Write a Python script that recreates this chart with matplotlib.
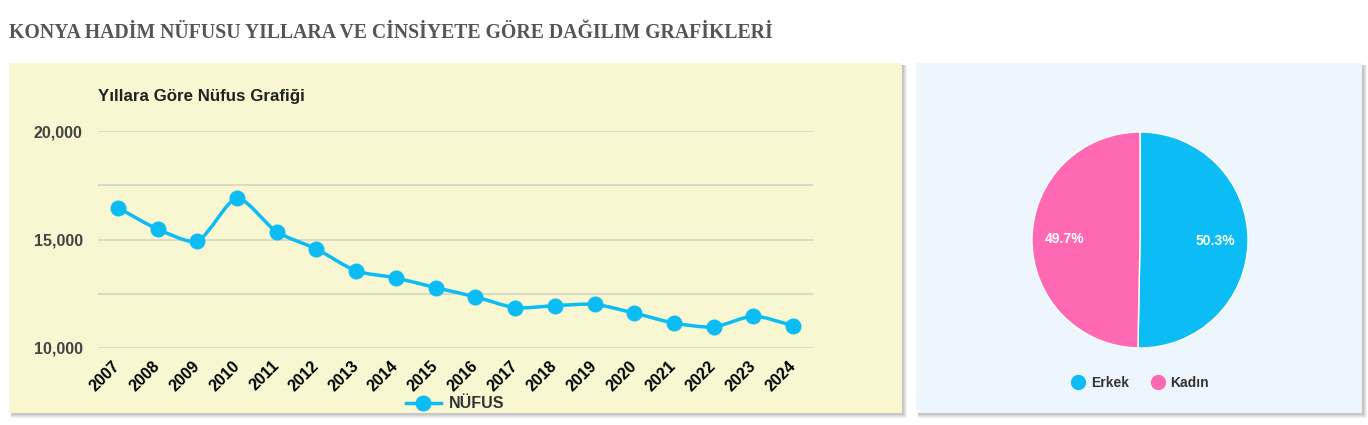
import numpy as np
import matplotlib.pyplot as plt
from matplotlib.patches import Rectangle
from matplotlib.path import Path
from matplotlib.patches import PathPatch
from matplotlib.lines import Line2D

plt.rcParams['font.family'] = ['Liberation Sans', 'DejaVu Sans']

yillar = ['2007', '2008', '2009', '2010', '2011', '2012', '2013', '2014', '2015',
          '2016', '2017', '2018', '2019', '2020', '2021', '2022', '2023', '2024']
nufus = [16465, 15480, 14930, 16900, 15350, 14560, 13550, 13230, 12780,
         12360, 11860, 11950, 12010, 11610, 11150, 10970, 11470, 11030]

cinsiyet = ['Erkek', 'Kadın']
oranlar = [50.3, 49.7]

MAVI = '#0bbdf4'
PEMBE = '#ff69b4'

W, H = 1368, 425
fig = plt.figure(figsize=(W / 100, H / 100), dpi=100)
fig.patch.set_facecolor('white')


def px_rect(x0, y0, x1, y1):
    # piksel koordinatlarini (ustten) figure oranina cevir
    return [x0 / W, 1 - y1 / H, (x1 - x0) / W, (y1 - y0) / H]


def panel(x0, y0, x1, y1, renk):
    for i, a in enumerate([0.05, 0.05, 0.06, 0.07]):
        off = 5 - i
        r = px_rect(x0 + 2, y0 + 2, x1 + off, y1 + off)
        fig.add_artist(Rectangle((r[0], r[1]), r[2], r[3], transform=fig.transFigure,
                                 facecolor='black', alpha=a, edgecolor='none', zorder=-3))
    r = px_rect(x0, y0, x1, y1)
    fig.add_artist(Rectangle((r[0], r[1]), r[2], r[3], transform=fig.transFigure,
                             facecolor=renk, edgecolor='none', zorder=-2))


panel(9, 63, 902, 413, '#f8f7d1')
panel(916, 63, 1362, 413, '#eef6fd')

fig.text(9 / W, 1 - 33 / H, 'KONYA HADİM NÜFUSU YILLARA VE CİNSİYETE GÖRE DAĞILIM GRAFİKLERİ',
         family='Liberation Serif', fontweight='bold', fontsize=14.2, color='#555555',
         ha='left', va='center')

# cizgi grafigi
ax = fig.add_axes(px_rect(98, 131, 813, 348))
ax.set_facecolor('none')
x = np.arange(len(yillar))
ax.set_xlim(-0.5, len(yillar) - 0.5)
ax.set_ylim(10000, 20000)

# chart.js tarzi yumusak egri
sx, sy = 39.7, 21.7 / 1000
pts = np.column_stack([x * sx, np.array(nufus) * sy])
t = 0.25
verts = [tuple(pts[0])]
codes = [Path.MOVETO]
cps = []
for i in range(len(pts)):
    p0 = pts[max(i - 1, 0)]
    p1 = pts[i]
    p2 = pts[min(i + 1, len(pts) - 1)]
    d01 = np.hypot(*(p1 - p0))
    d12 = np.hypot(*(p2 - p1))
    top = d01 + d12 if d01 + d12 > 0 else 1
    fa = t * d01 / top
    fb = t * d12 / top
    cps.append((p1 - fa * (p2 - p0), p1 + fb * (p2 - p0)))
for i in range(1, len(pts)):
    verts += [tuple(cps[i - 1][1]), tuple(cps[i][0]), tuple(pts[i])]
    codes += [Path.CURVE4] * 3
verts = [(vx / sx, vy / sy) for vx, vy in verts]
ax.add_patch(PathPatch(Path(verts, codes), facecolor='none', edgecolor=MAVI, lw=2.5,
                       zorder=3, clip_on=False))
ax.plot(x, nufus, 'o', color=MAVI, ms=10.5, zorder=4, clip_on=False)

ax.set_yticks([10000, 12500, 15000, 17500, 20000])
ax.set_yticklabels(['10,000', '', '15,000', '', '20,000'])
ax.grid(axis='y', color='#d6d5c4', lw=1.2)
ax.set_axisbelow(True)
ax.set_xticks(x)
ax.set_xticklabels(yillar, rotation=45, ha='right', va='center', rotation_mode='anchor',
                   fontsize=11.5, fontweight='bold', color='black')
ax.tick_params(axis='x', length=0, pad=11)
ax.tick_params(axis='y', length=0, pad=11, labelsize=11.5, labelcolor='#444444')
for lab in ax.get_yticklabels():
    lab.set_fontweight('bold')
for s in ax.spines.values():
    s.set_visible(False)

fig.text(98 / W, 1 - 97 / H, 'Yıllara Göre Nüfus Grafiği', fontsize=12.2, fontweight='bold',
         color='#222222', ha='left', va='center')

h = Line2D([], [], color=MAVI, lw=2.5, marker='o', ms=10.5)
fig.legend([h], ['NÜFUS'], loc='center', bbox_to_anchor=(455 / W, 1 - 404 / H), frameon=False,
           prop={'weight': 'bold', 'size': 11.5}, handlelength=2.2, handletextpad=0.5,
           labelcolor='#333333')

# pasta grafigi
ax2 = fig.add_axes(px_rect(1032, 132, 1248, 348))
ax2.pie(oranlar, colors=[MAVI, PEMBE], startangle=90, counterclock=False,
        autopct='%.1f%%', pctdistance=0.7,
        wedgeprops={'edgecolor': 'white', 'linewidth': 1},
        textprops={'color': 'white', 'fontweight': 'bold', 'fontsize': 10})
ax2.set_xlim(-1, 1)
ax2.set_ylim(-1, 1)
ax2.set_aspect('equal')

hs = [Line2D([], [], ls='none', marker='o', ms=10, color=c) for c in [MAVI, PEMBE]]
fig.legend(hs, cinsiyet, loc='center', bbox_to_anchor=(1140 / W, 1 - 383 / H), ncol=2,
           frameon=False, prop={'weight': 'bold', 'size': 10}, handlelength=1.0,
           handletextpad=0.43, columnspacing=1.59, labelcolor='#333333')

fig.savefig('out.png', dpi=100)
